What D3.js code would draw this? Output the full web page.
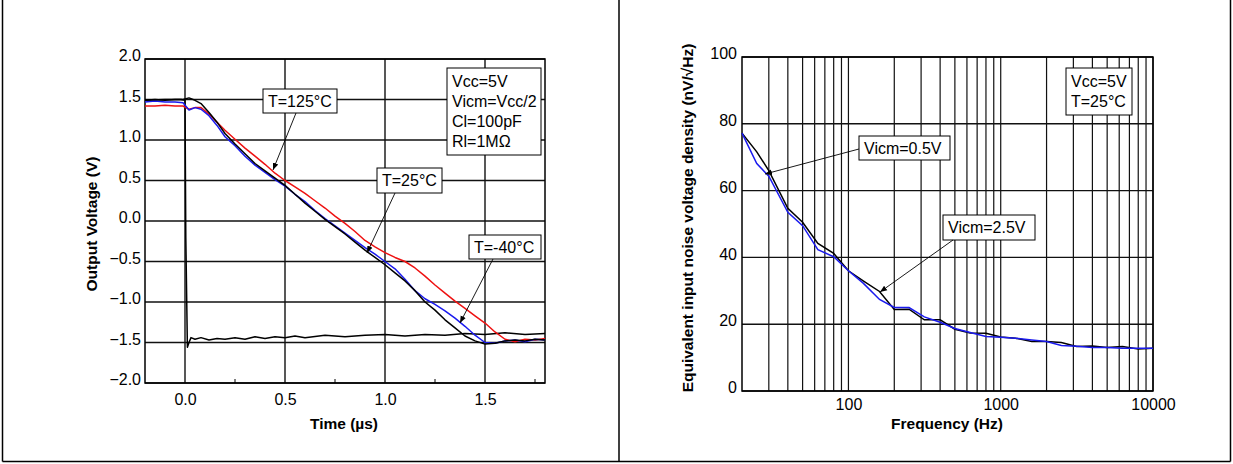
<!DOCTYPE html>
<html>
<head>
<meta charset="utf-8">
<script src="https://cdn.jsdelivr.net/npm/d3@7"></script>
<style>
  body { margin: 0; background: #fff; }
  text { font-family: "Liberation Sans", Arial, sans-serif; fill: #000; }
</style>
</head>
<body>
<svg id="chart" width="1233" height="464"></svg>
<script>
// left panel: output swing vs time
const timeOut = [-0.2,-0.15,-0.1,-0.05,-0.01,0.02,0.05,0.08,0.12,0.16,0.2,0.25,0.3,0.35,0.4,0.45,0.5,0.55,0.6,0.65,0.7,0.75,0.8,0.85,0.9,0.95,1.0,1.05,1.1,1.15,1.2,1.25,1.3,1.35,1.4,1.45,1.5,1.55,1.6,1.65,1.7,1.75,1.8];
const volt25 = [1.49,1.50,1.49,1.50,1.50,1.52,1.49,1.45,1.34,1.22,1.08,0.95,0.83,0.71,0.62,0.53,0.44,0.33,0.22,0.12,0.02,-0.07,-0.16,-0.26,-0.36,-0.45,-0.54,-0.64,-0.74,-0.86,-1.00,-1.10,-1.22,-1.32,-1.42,-1.48,-1.52,-1.51,-1.48,-1.47,-1.48,-1.46,-1.47];
const voltM40 = [1.47,1.48,1.47,1.47,1.46,1.37,1.40,1.38,1.30,1.18,1.04,0.93,0.80,0.69,0.60,0.51,0.43,0.33,0.24,0.13,0.03,-0.06,-0.15,-0.24,-0.33,-0.41,-0.50,-0.59,-0.72,-0.86,-0.96,-1.03,-1.11,-1.20,-1.30,-1.41,-1.50,-1.51,-1.48,-1.47,-1.49,-1.46,-1.47];
const volt125 = [1.42,1.42,1.43,1.42,1.42,1.38,1.40,1.40,1.32,1.22,1.12,1.01,0.90,0.80,0.70,0.59,0.50,0.42,0.34,0.25,0.16,0.06,-0.03,-0.13,-0.24,-0.32,-0.39,-0.45,-0.50,-0.58,-0.68,-0.79,-0.89,-0.99,-1.08,-1.17,-1.26,-1.37,-1.46,-1.49,-1.46,-1.47,-1.45];
const stepTime = [-0.2,-0.1,-0.02,0,0.004,0.012,0.02,0.03,0.05,0.08,0.12,0.16,0.2,0.25,0.3,0.35,0.4,0.45,0.5,0.55,0.6,0.7,0.8,0.9,1.0,1.1,1.2,1.3,1.4,1.5,1.6,1.7,1.8];
const stepVolt = [1.49,1.50,1.50,1.49,-0.2,-1.56,-1.50,-1.44,-1.46,-1.44,-1.47,-1.45,-1.46,-1.44,-1.46,-1.43,-1.45,-1.43,-1.44,-1.42,-1.44,-1.41,-1.43,-1.41,-1.40,-1.42,-1.40,-1.41,-1.39,-1.40,-1.38,-1.40,-1.39];
const voltTicks = [-2.0,-1.5,-1.0,-0.5,0.0,0.5,1.0,1.5,2.0];
const timeTicks = [0.0,0.5,1.0,1.5];

// right panel: noise density vs frequency
const freq = [20,25,30,40,50,63,80,100,125,160,200,250,315,400,500,630,800,1000,1250,1600,2000,2500,3150,4000,5000,6300,8000,10000];
const noise05 = [77.2,71.6,66.0,54.7,50.5,44.2,41.2,36.0,33.0,29.8,24.4,24.5,21.3,21.3,18.5,17.4,17.3,16.2,15.8,14.8,14.8,14.5,13.3,13.5,13.0,13.3,12.6,12.8];
const noise25 = [77.2,68.1,64.3,53.5,49.5,42.3,40.2,36.0,32.3,27.4,25.0,25.0,22.2,20.6,18.7,17.5,16.3,16.1,15.8,15.3,14.8,13.6,13.4,13.0,13.0,12.8,12.8,12.8];
const noiseTicks = [0,20,40,60,80,100];
const freqLabels = [100,1000,10000];

const svg = d3.select("#chart");

// panel frame
const frame = svg.append("g").attr("stroke", "#000").attr("stroke-width", 1.5);
frame.append("line").attr("x1", 2.5).attr("x2", 2.5).attr("y1", 0).attr("y2", 461.5);
frame.append("line").attr("x1", 619).attr("x2", 619).attr("y1", 0).attr("y2", 461.5);
frame.append("line").attr("x1", 1230.5).attr("x2", 1230.5).attr("y1", 0).attr("y2", 461.5);
frame.append("line").attr("x1", 2.5).attr("x2", 1230.5).attr("y1", 461.5).attr("y2", 461.5);

svg.append("defs").append("marker")
  .attr("id", "arrow")
  .attr("viewBox", "0 0 10 10")
  .attr("refX", 10).attr("refY", 5)
  .attr("markerWidth", 7).attr("markerHeight", 7)
  .attr("markerUnits", "userSpaceOnUse")
  .attr("orient", "auto")
  .append("path").attr("d", "M0,1 L10,5 L0,9 z").attr("fill", "#000");

function labelBox(g, x, y, w, h, lines, lineH) {
  g.append("rect").attr("x", x).attr("y", y).attr("width", w).attr("height", h)
    .attr("fill", "#fff").attr("stroke", "#000").attr("stroke-width", 1);
  const y0 = y + h / 2 - lineH * (lines.length - 1) / 2;
  lines.forEach((s, i) => {
    g.append("text").attr("x", x + 5).attr("y", y0 + lineH * i)
      .attr("dy", "0.36em").style("font-size", "16px").text(s);
  });
}

function arrow(g, x1, y1, x2, y2) {
  g.append("line").attr("x1", x1).attr("y1", y1).attr("x2", x2).attr("y2", y2)
    .attr("stroke", "#000").attr("stroke-width", 0.9).attr("marker-end", "url(#arrow)");
}

// ---------- left chart ----------
(function () {
  const left = 145, right = 545, top = 59, bottom = 383;
  const x = d3.scaleLinear().domain([-0.2, 1.8]).range([left, right]);
  const y = d3.scaleLinear().domain([-2, 2]).range([bottom, top]);
  const g = svg.append("g");

  // grid
  g.selectAll(".hg").data(voltTicks).enter().append("line")
    .attr("x1", left).attr("x2", right).attr("y1", d => y(d)).attr("y2", d => y(d))
    .attr("stroke", "#111").attr("stroke-width", 1.4);
  g.selectAll(".vg").data(timeTicks).enter().append("line")
    .attr("x1", d => x(d)).attr("x2", d => x(d)).attr("y1", top).attr("y2", bottom)
    .attr("stroke", "#111").attr("stroke-width", 1.4);
  // minor ticks
  g.selectAll(".mt").data([0.25, 0.75, 1.25, 1.75]).enter().append("line")
    .attr("x1", d => x(d)).attr("x2", d => x(d)).attr("y1", bottom).attr("y2", bottom - 4)
    .attr("stroke", "#000").attr("stroke-width", 1);

  g.append("rect").attr("x", left).attr("y", top).attr("width", right - left).attr("height", bottom - top)
    .attr("fill", "none").attr("stroke", "#000").attr("stroke-width", 1.5);

  const yAxis = d3.axisLeft(y).tickValues(voltTicks).tickFormat(d3.format(".1f")).tickSize(0).tickPadding(4);
  const ya = g.append("g").attr("transform", `translate(${left},0)`).call(yAxis);
  ya.select(".domain").remove();
  ya.selectAll("text").style("font-size", "16px").attr("dy", "0.1em");

  const xAxis = d3.axisBottom(x).tickValues(timeTicks).tickFormat(d3.format(".1f")).tickSize(0).tickPadding(11);
  const xa = g.append("g").attr("transform", `translate(0,${bottom})`).call(xAxis);
  xa.select(".domain").remove();
  xa.selectAll("text").style("font-size", "16px");

  g.append("text").attr("x", 344).attr("y", 429).attr("text-anchor", "middle")
    .style("font-size", "15.5px").style("font-weight", "bold").text("Time (µs)");
  g.append("text").attr("transform", "translate(97,224) rotate(-90)").attr("text-anchor", "middle")
    .style("font-size", "15.5px").style("font-weight", "bold").text("Output Voltage (V)");

  const line = d3.line().x(d => x(d[0])).y(d => y(d[1]));
  const plot = g.append("g");
  const series = [
    { t: stepTime, v: stepVolt, c: "#000" },
    { t: timeOut, v: volt125, c: "#ee1111" },
    { t: timeOut, v: voltM40, c: "#1a1aee" },
    { t: timeOut, v: volt25, c: "#000" }
  ];
  series.forEach(s => {
    plot.append("path").datum(d3.zip(s.t, s.v)).attr("d", line)
      .attr("fill", "none").attr("stroke", s.c).attr("stroke-width", 1.5).attr("stroke-linejoin", "round");
  });

  labelBox(g, 263, 89, 74, 24, ["T=125°C"], 20);
  arrow(g, 296, 113, 273, 170);
  labelBox(g, 377, 168, 65, 25, ["T=25°C"], 20);
  arrow(g, 395, 193, 367, 253);
  labelBox(g, 469, 235, 72, 24, ["T=-40°C"], 20);
  arrow(g, 493, 259, 460, 323);
  labelBox(g, 447, 68, 94, 87, ["Vcc=5V", "Vicm=Vcc/2", "Cl=100pF", "Rl=1MΩ"], 20);
})();

// ---------- right chart ----------
(function () {
  const left = 742, right = 1153, top = 57, bottom = 391;
  const x = d3.scaleLog().domain([20, 10000]).range([left, right]);
  const y = d3.scaleLinear().domain([0, 100]).range([bottom, top]);
  const g = svg.append("g");

  const minorFreq = [];
  [10, 100, 1000].forEach(dec => { for (let k = 2; k <= 10; k++) if (dec * k > 20) minorFreq.push(dec * k); });

  g.selectAll(".vg").data(minorFreq).enter().append("line")
    .attr("x1", d => x(d)).attr("x2", d => x(d)).attr("y1", top).attr("y2", bottom)
    .attr("stroke", "#111").attr("stroke-width", 1.2);
  g.selectAll(".hg").data(noiseTicks).enter().append("line")
    .attr("x1", left).attr("x2", right).attr("y1", d => y(d)).attr("y2", d => y(d))
    .attr("stroke", "#111").attr("stroke-width", 1.4);
  g.append("rect").attr("x", left).attr("y", top).attr("width", right - left).attr("height", bottom - top)
    .attr("fill", "none").attr("stroke", "#000").attr("stroke-width", 1.5);

  const yAxis = d3.axisLeft(y).tickValues(noiseTicks).tickSize(0).tickPadding(5);
  const ya = g.append("g").attr("transform", `translate(${left},0)`).call(yAxis);
  ya.select(".domain").remove();
  ya.selectAll("text").style("font-size", "16px").attr("dy", "0.1em");

  const xAxis = d3.axisBottom(x).tickValues(freqLabels).tickFormat(d3.format("d")).tickSize(0).tickPadding(8);
  const xa = g.append("g").attr("transform", `translate(0,${bottom})`).call(xAxis);
  xa.select(".domain").remove();
  xa.selectAll("text").style("font-size", "16px");

  g.append("text").attr("x", 947).attr("y", 429).attr("text-anchor", "middle")
    .style("font-size", "15.5px").style("font-weight", "bold").text("Frequency (Hz)");
  g.append("text").attr("transform", "translate(693,218) rotate(-90)").attr("text-anchor", "middle")
    .style("font-size", "15.5px").style("font-weight", "bold").text("Equivalent input noise voltage density (nV/√Hz)");

  const line = d3.line().x(d => x(d[0])).y(d => y(d[1]));
  g.append("path").datum(d3.zip(freq, noise05)).attr("d", line)
    .attr("fill", "none").attr("stroke", "#000").attr("stroke-width", 1.5);
  g.append("path").datum(d3.zip(freq, noise25)).attr("d", line)
    .attr("fill", "none").attr("stroke", "#1a1aee").attr("stroke-width", 1.5);

  labelBox(g, 1066, 68, 66, 47, ["Vcc=5V", "T=25°C"], 20);
  labelBox(g, 859, 136, 91, 24, ["Vicm=0.5V"], 20);
  arrow(g, 859, 149, 765, 174);
  labelBox(g, 943, 215, 92, 25, ["Vicm=2.5V"], 20);
  arrow(g, 953, 240, 880, 292);
})();
</script>
</body>
</html>
